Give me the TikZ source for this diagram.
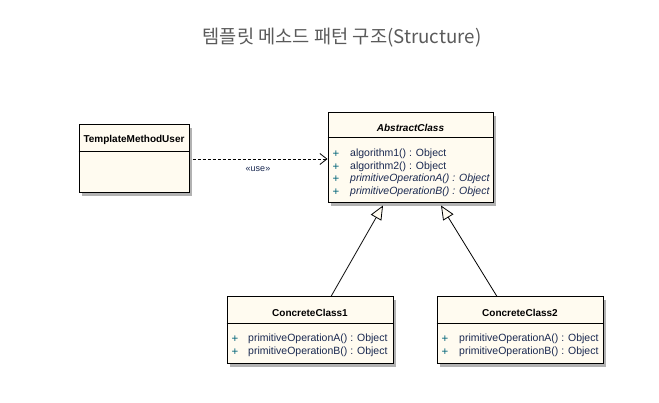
\documentclass[tikz,border=0pt]{standalone}
\usepackage{fontspec}
\setmainfont{Liberation Sans}
\newfontfamily\krfont{Noto Sans CJK KR}
\usetikzlibrary{arrows.meta,shadows}
\definecolor{classfill}{RGB}{255,251,240}
\definecolor{membertext}{RGB}{25,40,80}
\definecolor{memberplus}{RGB}{0,100,120}
\definecolor{titlegray}{RGB}{90,90,90}

\begin{document}
\begin{tikzpicture}[x=1pt, y=-1pt,
    classbox/.style={draw, line width=1pt, fill=classfill, inner sep=0pt,
      drop shadow={shadow xshift=3pt, shadow yshift=-3pt, fill=black!30, opacity=1}},
    classname/.style={font=\fontsize{10}{12}\selectfont\bfseries, inner sep=0pt},
    member/.style={font=\fontsize{10.5}{12}\selectfont, text=membertext, anchor=west, inner sep=0pt},
    plus/.style={font=\fontsize{11.5}{12}\selectfont, text=memberplus, inner sep=0pt},
    inherit/.style={line width=0.8pt, -{Triangle[open, fill=classfill, length=14pt, width=12pt]}}]
    \useasboundingbox (0,0) rectangle (659,403);
    \node[font=\krfont\fontsize{18.7}{22}\selectfont, text=titlegray] (title) at (342,38) {템플릿 메소드 패턴 구조(Structure)};

    \node[classbox, minimum width=110pt, minimum height=68pt] (user) at (134,159) {};
    \draw[line width=1pt] ([yshift=-27pt]user.north west) -- ([yshift=-27pt]user.north east);
    \node[classname] (username) at (134,140) {TemplateMethodUser};

    \node[classbox, minimum width=165pt, minimum height=90pt] (abstract) at (410.5,158) {};
    \draw[line width=1pt] ([yshift=-25pt]abstract.north west) -- ([yshift=-25pt]abstract.north east);
    \node[classname, font=\fontsize{10}{12}\selectfont\bfseries\itshape] (abstractname) at (410.5,128) {AbstractClass};
    \node[plus] (ap1) at (336,154) {+};
    \node[plus] (ap2) at (336,167) {+};
    \node[plus] (ap3) at (336,179) {+};
    \node[plus] (ap4) at (336,192) {+};
    \node[member] (am1) at (350,154) {algorithm1() : Object};
    \node[member] (am2) at (350,167) {algorithm2() : Object};
    \node[member, font=\fontsize{10.5}{12}\selectfont\itshape] (am3) at (350,179) {primitiveOperationA() : Object};
    \node[member, font=\fontsize{10.5}{12}\selectfont\itshape] (am4) at (350,192) {primitiveOperationB() : Object};

    \node[classbox, minimum width=166pt, minimum height=67pt] (concrete1) at (310,330.5) {};
    \draw[line width=1pt] ([yshift=-27pt]concrete1.north west) -- ([yshift=-27pt]concrete1.north east);
    \node[classname] (concrete1name) at (310,313) {ConcreteClass1};
    \node[plus] (c1p1) at (235,339) {+};
    \node[plus] (c1p2) at (235,352) {+};
    \node[member] (c1m1) at (248,339) {primitiveOperationA() : Object};
    \node[member] (c1m2) at (248,352) {primitiveOperationB() : Object};

    \node[classbox, minimum width=166pt, minimum height=67pt] (concrete2) at (520,330.5) {};
    \draw[line width=1pt] ([yshift=-27pt]concrete2.north west) -- ([yshift=-27pt]concrete2.north east);
    \node[classname] (concrete2name) at (520,313) {ConcreteClass2};
    \node[plus] (c2p1) at (445,339) {+};
    \node[plus] (c2p2) at (445,352) {+};
    \node[member] (c2m1) at (459,339) {primitiveOperationA() : Object};
    \node[member] (c2m2) at (459,352) {primitiveOperationB() : Object};

    \draw[line width=0.8pt, dash pattern=on 3pt off 2pt, -{Straight Barb[length=7pt, width=11pt]}]
        ([xshift=3pt]user.east) -- (user.east -| abstract.west);
    \node[font=\fontsize{9}{10}\selectfont, text=membertext] (uselabel) at (258,169) {«use»};

    \draw[inherit] ([xshift=21pt]concrete1.north) -- ([xshift=-27.5pt, yshift=-2pt]abstract.south);
    \draw[inherit] ([xshift=-23pt]concrete2.north) -- ([xshift=30.5pt, yshift=-2pt]abstract.south);
\end{tikzpicture}
\end{document}
